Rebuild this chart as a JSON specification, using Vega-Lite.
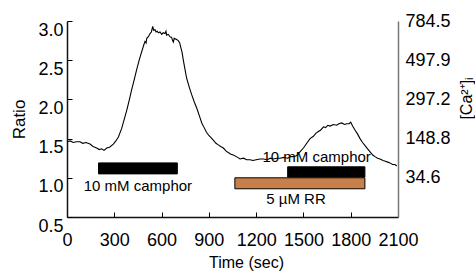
{
  "$schema": "https://vega.github.io/schema/vega-lite/v6.json",
  "width": 331,
  "height": 196,
  "autosize": {"type": "none"},
  "padding": {"left": 67, "top": 21, "right": 77, "bottom": 54},
  "background": "white",
  "config": {
    "font": "Liberation Sans",
    "view": {"stroke": null},
    "axis": {"grid": false, "labelColor": "#000", "titleColor": "#000", "titleFontWeight": "normal", "labelFont": "Liberation Sans", "titleFont": "Liberation Sans"}
  },
  "datasets": {
    "trace": [
      {"t": 0, "r": 1.46}, {"t": 20, "r": 1.47}, {"t": 40, "r": 1.45}, {"t": 60, "r": 1.46}, {"t": 82, "r": 1.46},
      {"t": 100, "r": 1.44}, {"t": 120, "r": 1.45}, {"t": 146, "r": 1.43}, {"t": 165, "r": 1.40}, {"t": 188, "r": 1.38},
      {"t": 205, "r": 1.36}, {"t": 220, "r": 1.37}, {"t": 235, "r": 1.35}, {"t": 252, "r": 1.38}, {"t": 270, "r": 1.39},
      {"t": 294, "r": 1.43}, {"t": 310, "r": 1.47}, {"t": 326, "r": 1.52}, {"t": 347, "r": 1.63}, {"t": 362, "r": 1.74},
      {"t": 379, "r": 1.86}, {"t": 395, "r": 1.99}, {"t": 410, "r": 2.12}, {"t": 425, "r": 2.24}, {"t": 442, "r": 2.38},
      {"t": 458, "r": 2.50}, {"t": 474, "r": 2.61}, {"t": 488, "r": 2.70}, {"t": 495, "r": 2.74}, {"t": 502, "r": 2.72},
      {"t": 506, "r": 2.78}, {"t": 516, "r": 2.80}, {"t": 527, "r": 2.84}, {"t": 535, "r": 2.86}, {"t": 544, "r": 2.93},
      {"t": 550, "r": 2.88}, {"t": 558, "r": 2.89}, {"t": 565, "r": 2.86}, {"t": 572, "r": 2.87}, {"t": 580, "r": 2.85},
      {"t": 590, "r": 2.86}, {"t": 601, "r": 2.83}, {"t": 610, "r": 2.85}, {"t": 622, "r": 2.84}, {"t": 628, "r": 2.87},
      {"t": 632, "r": 2.82}, {"t": 643, "r": 2.83}, {"t": 652, "r": 2.80}, {"t": 664, "r": 2.79}, {"t": 670, "r": 2.75},
      {"t": 675, "r": 2.73}, {"t": 680, "r": 2.78}, {"t": 690, "r": 2.77}, {"t": 706, "r": 2.75}, {"t": 715, "r": 2.72},
      {"t": 721, "r": 2.67}, {"t": 730, "r": 2.60}, {"t": 738, "r": 2.50}, {"t": 748, "r": 2.39}, {"t": 759, "r": 2.27},
      {"t": 775, "r": 2.16}, {"t": 791, "r": 2.06}, {"t": 807, "r": 1.97}, {"t": 823, "r": 1.89}, {"t": 840, "r": 1.79},
      {"t": 855, "r": 1.70}, {"t": 870, "r": 1.64}, {"t": 885, "r": 1.58}, {"t": 900, "r": 1.54}, {"t": 915, "r": 1.51},
      {"t": 928, "r": 1.48}, {"t": 945, "r": 1.44}, {"t": 960, "r": 1.42}, {"t": 975, "r": 1.40}, {"t": 992, "r": 1.38},
      {"t": 1010, "r": 1.34}, {"t": 1025, "r": 1.32}, {"t": 1040, "r": 1.30}, {"t": 1055, "r": 1.29}, {"t": 1075, "r": 1.27},
      {"t": 1098, "r": 1.24}, {"t": 1120, "r": 1.25}, {"t": 1140, "r": 1.23}, {"t": 1161, "r": 1.23}, {"t": 1180, "r": 1.22},
      {"t": 1200, "r": 1.23}, {"t": 1225, "r": 1.24}, {"t": 1246, "r": 1.24}, {"t": 1270, "r": 1.23}, {"t": 1290, "r": 1.25},
      {"t": 1310, "r": 1.24}, {"t": 1330, "r": 1.25}, {"t": 1352, "r": 1.25}, {"t": 1375, "r": 1.26}, {"t": 1400, "r": 1.25},
      {"t": 1420, "r": 1.27}, {"t": 1436, "r": 1.27}, {"t": 1455, "r": 1.28}, {"t": 1478, "r": 1.33}, {"t": 1500, "r": 1.38},
      {"t": 1521, "r": 1.44}, {"t": 1542, "r": 1.50}, {"t": 1563, "r": 1.53}, {"t": 1580, "r": 1.57}, {"t": 1595, "r": 1.59},
      {"t": 1610, "r": 1.61}, {"t": 1627, "r": 1.65}, {"t": 1640, "r": 1.64}, {"t": 1655, "r": 1.67}, {"t": 1669, "r": 1.66},
      {"t": 1690, "r": 1.68}, {"t": 1711, "r": 1.67}, {"t": 1725, "r": 1.69}, {"t": 1743, "r": 1.70}, {"t": 1760, "r": 1.68},
      {"t": 1775, "r": 1.69}, {"t": 1790, "r": 1.69}, {"t": 1800, "r": 1.71}, {"t": 1812, "r": 1.66}, {"t": 1827, "r": 1.61},
      {"t": 1843, "r": 1.56}, {"t": 1859, "r": 1.50}, {"t": 1875, "r": 1.45}, {"t": 1891, "r": 1.41}, {"t": 1907, "r": 1.37},
      {"t": 1923, "r": 1.33}, {"t": 1940, "r": 1.29}, {"t": 1954, "r": 1.27}, {"t": 1970, "r": 1.25}, {"t": 1986, "r": 1.24},
      {"t": 2005, "r": 1.22}, {"t": 2020, "r": 1.21}, {"t": 2035, "r": 1.20}, {"t": 2049, "r": 1.19}, {"t": 2065, "r": 1.17},
      {"t": 2080, "r": 1.17}, {"t": 2092, "r": 1.15}
    ],
    "bars": [
      {"start": 200, "end": 700, "lo": 1.05, "hi": 1.19, "kind": "camphor"},
      {"start": 1065, "end": 1890, "lo": 0.86, "hi": 1.0, "kind": "RR"},
      {"start": 1400, "end": 1890, "lo": 1.01, "hi": 1.14, "kind": "camphor"}
    ],
    "labels": [
      {"t": 450, "r": 0.9, "label": "10 mM camphor"},
      {"t": 1584, "r": 1.26, "label": "10 mM camphor"},
      {"t": 1453, "r": 0.73, "label": "5 µM RR"}
    ]
  },
  "resolve": {"scale": {"y": "independent"}},
  "layer": [
    {
      "data": {"name": "trace"},
      "mark": {"type": "line", "color": "#000", "strokeWidth": 1.1},
      "encoding": {
        "x": {"field": "t", "type": "quantitative",
          "scale": {"domain": [0, 2100], "nice": false},
          "axis": {"values": [0, 300, 600, 900, 1200, 1500, 1800, 2100], "format": "d", "tickSize": -5, "tickColor": "#000", "domainColor": "#111", "domainWidth": 1.5,
            "labelFontSize": 18, "labelPadding": 19, "labelFlush": false, "labelOverlap": false, "labelDx": 5,
            "title": "Time (sec)", "titleFontSize": 16, "titleX": 179, "titleY": 50, "titleBaseline": "alphabetic", "titleAlign": "center"}},
        "y": {"field": "r", "type": "quantitative",
          "scale": {"domain": [0.5, 3], "nice": false, "zero": false},
          "axis": {"values": [0.5, 1, 1.5, 2, 2.5, 3], "format": ".1f", "tickSize": -5, "tickColor": "#000", "domainColor": "#111", "domainWidth": 1.5,
            "labelFontSize": 18, "labelPadding": 9, "labelBaseline": "top", "labelDy": -2,
            "title": "Ratio", "titleFontSize": 17, "titleX": -48, "titleY": 98, "titleAngle": 270, "titleBaseline": "middle", "titleAlign": "center"}}
      }
    },
    {
      "data": {"name": "bars"},
      "mark": {"type": "rect", "stroke": "#000", "strokeWidth": 1},
      "encoding": {
        "x": {"field": "start", "type": "quantitative"},
        "x2": {"field": "end"},
        "y": {"field": "lo", "type": "quantitative", "scale": {"domain": [0.5, 3], "nice": false, "zero": false}, "axis": null},
        "y2": {"field": "hi"},
        "fill": {"field": "kind", "type": "nominal", "scale": {"domain": ["camphor", "RR"], "range": ["#000000", "#c8804a"]}, "legend": null}
      }
    },
    {
      "data": {"name": "labels"},
      "mark": {"type": "text", "fontSize": 15, "color": "#000", "baseline": "middle", "align": "center"},
      "encoding": {
        "x": {"field": "t", "type": "quantitative"},
        "y": {"field": "r", "type": "quantitative", "scale": {"domain": [0.5, 3], "nice": false, "zero": false}, "axis": null},
        "text": {"field": "label"}
      }
    },
    {
      "data": {"name": "trace"},
      "mark": {"type": "line", "opacity": 0},
      "encoding": {
        "x": {"field": "t", "type": "quantitative"},
        "y": {"field": "r", "type": "quantitative",
          "scale": {"domain": [0.5, 3], "nice": false, "zero": false},
          "axis": {"orient": "right", "values": [1, 1.5, 2, 2.5, 3], "ticks": false, "domainColor": "#777", "domainWidth": 1.5,
            "labelExpr": "datum.value == 3 ? '784.5' : datum.value == 2.5 ? '497.9' : datum.value == 2 ? '297.2' : datum.value == 1.5 ? '148.8' : '34.6'",
            "labelFontSize": 18, "labelPadding": 7, "labelDy": 1.5,
            "title": "[Ca²⁺]ᵢ", "titleFontSize": 16, "titleX": 68, "titleY": 77, "titleAngle": 270, "titleBaseline": "middle", "titleAlign": "center"}}
      }
    }
  ]
}
